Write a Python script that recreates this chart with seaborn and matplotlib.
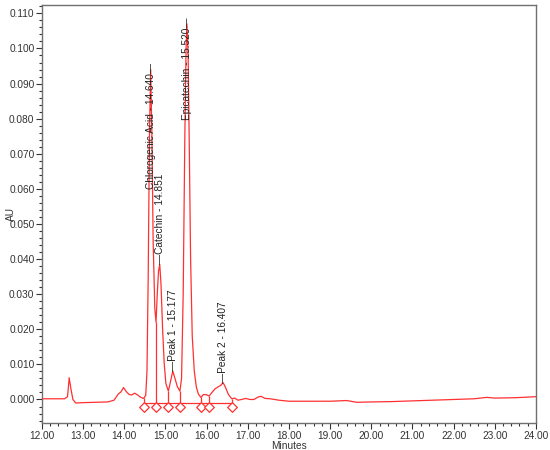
import numpy as np
import pandas as pd
import matplotlib
matplotlib.use("Agg")
import matplotlib.pyplot as plt
from matplotlib.ticker import MultipleLocator, FormatStrFormatter
import seaborn as sns

# chromatogram trace (minutes, AU)
minutes = [12.00, 12.55, 12.62, 12.66, 12.70, 12.75, 12.82, 13.00, 13.30, 13.60,
           13.75, 13.85, 13.92, 13.98, 14.05, 14.12, 14.18, 14.25, 14.32, 14.40,
           14.47, 14.52, 14.55, 14.58, 14.61, 14.64, 14.67, 14.70, 14.74, 14.77,
           14.80, 14.83, 14.86, 14.89, 14.93, 14.97, 15.01, 15.07, 15.12, 15.177,
           15.23, 15.29, 15.35, 15.39, 15.43, 15.47, 15.50, 15.52, 15.55, 15.58,
           15.61, 15.65, 15.70, 15.75, 15.80, 15.86, 15.92, 15.98, 16.06, 16.13,
           16.20, 16.28, 16.34, 16.40, 16.46, 16.53, 16.61, 16.68, 16.76, 16.85,
           16.95, 17.05, 17.15, 17.25, 17.32, 17.42, 17.55, 17.75, 18.00, 18.50,
           19.00, 19.40, 19.50, 19.65, 20.00, 20.50, 21.00, 21.50, 22.00, 22.50,
           22.80, 23.00, 23.50, 24.00]
absorbance = [0.0002, 0.0002, 0.0008, 0.0062, 0.0032, 0.0000, -0.0010, -0.0009, -0.0008, -0.0007,
              -0.0002, 0.0015, 0.0022, 0.0034, 0.0022, 0.0014, 0.0013, 0.0018, 0.0013, 0.0006,
              0.0003, 0.0012, 0.0080, 0.0350, 0.0750, 0.0940, 0.0750, 0.0450, 0.0260, 0.0220,
              0.0300, 0.0365, 0.0385, 0.0330, 0.0200, 0.0100, 0.0045, 0.0024, 0.0050, 0.0081,
              0.0060, 0.0036, 0.0024, 0.0060, 0.0300, 0.0750, 0.1000, 0.1070, 0.0980, 0.0700,
              0.0400, 0.0180, 0.0080, 0.0035, 0.0015, 0.0006, 0.0014, 0.0014, 0.0010, 0.0020,
              0.0030, 0.0036, 0.0040, 0.0048, 0.0034, 0.0014, 0.0002, 0.0004, -0.0002, 0.0000,
              0.0003, 0.0000, 0.0000, 0.0007, 0.0009, 0.0003, 0.0002, -0.0002, -0.0005, -0.0005,
              -0.0005, -0.0003, -0.0005, -0.0008, -0.0007, -0.0006, -0.0004, -0.0002, 0.0000, 0.0002,
              0.0006, 0.0004, 0.0005, 0.0008]

# labelled peaks
peak_names = ["Chlorogenic Acid - 14.640", "Catechin - 14.851", "Peak 1 - 15.177",
              "Epicatechin - 15.520", "Peak 2 - 16.407"]
peak_times = [14.64, 14.86, 15.177, 15.52, 16.40]
peak_heights = [0.0940, 0.0385, 0.0081, 0.1070, 0.0048]
label_below = [True, False, False, True, False]

# integration start / valley / end points
valley_times = [14.47, 14.77, 15.07, 15.35, 15.86, 16.06, 16.61]
valley_heights = [0.0003, 0.0220, 0.0024, 0.0024, 0.0006, 0.0010, 0.0002]
baseline_level = -0.0009
marker_level = -0.0020

red = "#ff3030"

sns.set_style("ticks")
plt.rcParams["font.family"] = ["Liberation Sans", "DejaVu Sans"]

df = pd.DataFrame({"Minutes": minutes, "AU": absorbance})

fig = plt.figure(figsize=(5.5, 4.5), dpi=100)
ax = fig.add_axes([0.0764, 0.06, 0.898, 0.929])

sns.lineplot(data=df, x="Minutes", y="AU", color=red, linewidth=0.9,
             sort=False, ax=ax, zorder=3)

# integration baseline, drop lines and markers
ax.plot([valley_times[0], valley_times[-1]], [baseline_level, baseline_level],
        color=red, linewidth=0.9, zorder=2)
ax.vlines(valley_times, baseline_level, valley_heights, color=red, linewidth=0.9, zorder=2)
sns.scatterplot(x=valley_times, y=[marker_level] * len(valley_times), marker="D",
                s=24, facecolor="white", edgecolor=red, linewidth=0.9, ax=ax, zorder=4)

for name, t, h, below in zip(peak_names, peak_times, peak_heights, label_below):
    if below:
        ax.text(t, h + 0.0018, name + "\u2014", rotation=90, ha="center", va="top",
                fontsize=7.3, color="#222222", zorder=5)
    else:
        ax.text(t, h, "\u2014" + name, rotation=90, ha="center", va="bottom",
                fontsize=7.3, color="#222222", zorder=5)

ax.set_xlim(12, 24)
ax.set_ylim(-0.0067, 0.1124)
ax.xaxis.set_major_locator(MultipleLocator(1))
ax.xaxis.set_minor_locator(MultipleLocator(0.2))
ax.yaxis.set_major_locator(MultipleLocator(0.01))
ax.yaxis.set_minor_locator(MultipleLocator(0.002))
ax.xaxis.set_major_formatter(FormatStrFormatter("%.2f"))
ax.yaxis.set_major_formatter(FormatStrFormatter("%.3f"))
ax.tick_params(which="major", length=4, width=0.8, labelsize=7.3, colors="#333333", pad=1.5)
ax.tick_params(which="minor", length=2.5, width=0.8, colors="#333333")
ax.set_xlabel("Minutes", fontsize=7.3, labelpad=0, color="#333333")
ax.set_ylabel("AU", fontsize=7.3, color="#333333")
ax.yaxis.set_label_coords(-0.052, 0.5)
for side in ["top", "right", "left", "bottom"]:
    ax.spines[side].set_visible(True)
    ax.spines[side].set_color("#707070")
    ax.spines[side].set_linewidth(1.0)

fig.savefig("out.png", dpi=100)
